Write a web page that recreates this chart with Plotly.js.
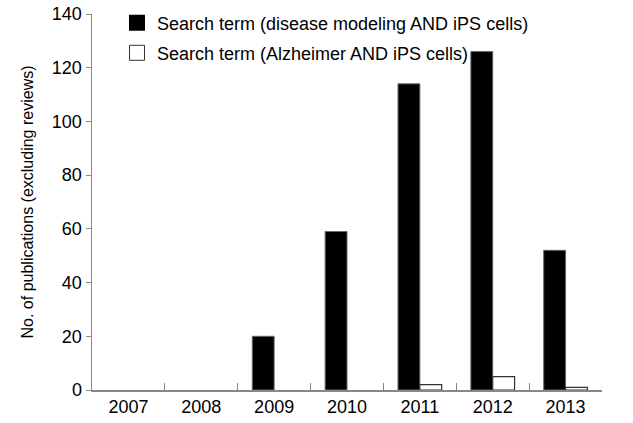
<!DOCTYPE html>
<html><head><meta charset="utf-8">
<script src="https://cdn.plot.ly/plotly-3.0.1.min.js"></script>
<style>html,body{margin:0;padding:0;background:#fff}#chart{width:633px;height:423px}</style>
</head><body><div id="chart"></div>
<script>
const years = ['2007','2008','2009','2010','2011','2012','2013'];
const diseaseModeling = [0, 0, 20, 59, 114, 126, 52];
const alzheimer = [0, 0, 0, 0, 2, 5, 1];
const seriesNames = ['Search term (disease modeling AND iPS cells)', 'Search term (Alzheimer AND iPS cells)'];
const yTicks = [0, 20, 40, 60, 80, 100, 120, 140];

const fam = 'Liberation Sans, Arial, sans-serif';
const tickFont = {family: fam, size: 18, color: '#000'};
const legFont = {family: fam, size: 18, color: '#000'};
const titleFont = {family: fam, size: 16, color: '#000'};
const lw = (vals, w) => vals.map(v => v > 0 ? w : 0);
const data = [
  {type: 'bar', x: years, y: diseaseModeling, name: seriesNames[0], showlegend: false,
   marker: {color: '#000', line: {color: '#666', width: lw(diseaseModeling, 1)}}},
  {type: 'bar', x: years, y: alzheimer, name: seriesNames[1], showlegend: false,
   marker: {color: '#fff', line: {color: '#333', width: lw(alzheimer, 1.2)}}},
  // legend entries
  {type: 'scatter', mode: 'markers', x: [null], y: [null], name: seriesNames[0], legend: 'legend',
   marker: {symbol: 'square', size: 16, color: '#000', line: {color: '#000', width: 0}}},
  {type: 'scatter', mode: 'markers', x: [null], y: [null], name: seriesNames[1], legend: 'legend2',
   marker: {symbol: 'square', size: 15, color: '#fff', line: {color: '#333', width: 1}}}
];
const layout = {
  width: 633, height: 423,
  margin: {l: 92, r: 31, t: 14, b: 33, autoexpand: false},
  paper_bgcolor: '#fff', plot_bgcolor: '#fff',
  font: tickFont,
  barmode: 'group', bargap: 0.4, bargroupgap: 0,
  xaxis: {type: 'category', showline: true, linecolor: '#888', linewidth: 1.5,
    ticks: 'inside', tickson: 'boundaries', ticklen: 7, tickcolor: '#888', tickwidth: 1,
    showgrid: false, zeroline: false, tickfont: tickFont, range: [-0.5, 6.5]},
  yaxis: {range: [0, 140], tickvals: yTicks, showline: true, linecolor: '#888', linewidth: 1.5,
    ticks: 'outside', ticklen: 5, tickcolor: '#888', showgrid: false, zeroline: false,
    tickfont: tickFont,
    title: {text: 'No. of publications (excluding reviews)', font: titleFont, standoff: 14}},
  legend: {x: 0.049, y: 0.976, xanchor: 'left', yanchor: 'middle', bgcolor: 'rgba(0,0,0,0)', font: legFont},
  legend2: {x: 0.049, y: 0.896, xanchor: 'left', yanchor: 'middle', bgcolor: 'rgba(0,0,0,0)', font: legFont},
  showlegend: true
};
Plotly.newPlot('chart', data, layout, {displayModeBar: false, staticPlot: true});
</script></body></html>
